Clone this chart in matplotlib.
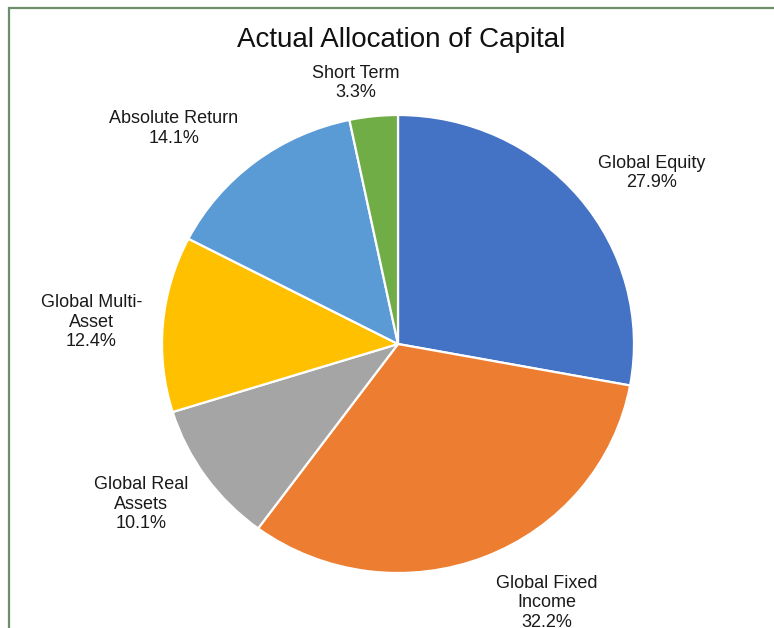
import numpy as np
import matplotlib.pyplot as plt
from matplotlib.patches import Rectangle

plt.rcParams['font.family'] = ['Liberation Sans', 'DejaVu Sans']

# Data
categories = ["Global Equity", "Global Fixed\nIncome", "Global Real\nAssets",
              "Global Multi-\nAsset", "Absolute Return", "Short Term"]
shares = [27.9, 32.2, 10.1, 12.4, 14.1, 3.3]
colors = ["#4472C4", "#ED7D31", "#A5A5A5", "#FFC000", "#5B9BD5", "#70AD47"]

# label anchor positions (axes data units, pie radius = 1)
label_pos = [(1.076, 0.747), (0.63, -1.13), (-1.09, -0.70),
             (-1.30, 0.096), (-0.95, 0.94), (-0.18, 1.14)]

fig = plt.figure(figsize=(7.74, 6.28), dpi=100)
W, H = 774, 628

# pie bounding box in pixels
left, right, top, bottom = 162, 634, 115, 573
ax = fig.add_axes([left / W, 1 - bottom / H, (right - left) / W, (bottom - top) / H])

ax.pie(shares, colors=colors, startangle=90, counterclock=False, radius=1,
       wedgeprops=dict(edgecolor="white", linewidth=1.6))
ax.set_aspect("auto")
ax.set_xlim(-1, 1)
ax.set_ylim(-1, 1)
ax.axis("off")

for cat, val, (x, y) in zip(categories, shares, label_pos):
    ax.text(x, y, f"{cat}\n{val:.1f}%", ha="center", va="center",
            fontsize=13, color="#1a1a1a", linespacing=1.2, clip_on=False)

fig.text(401 / W, 1 - 40 / H, "Actual Allocation of Capital", ha="center",
         va="center", fontsize=20, color="#111111")

# chart border (cropped on right and bottom)
fig.patches.append(Rectangle((8.5 / W, -0.1), 1.2, 1 - 7.5 / H + 0.1,
                             transform=fig.transFigure, fill=False,
                             edgecolor="#6A8F6A", linewidth=1.6))

fig.savefig("out.png", dpi=100)
